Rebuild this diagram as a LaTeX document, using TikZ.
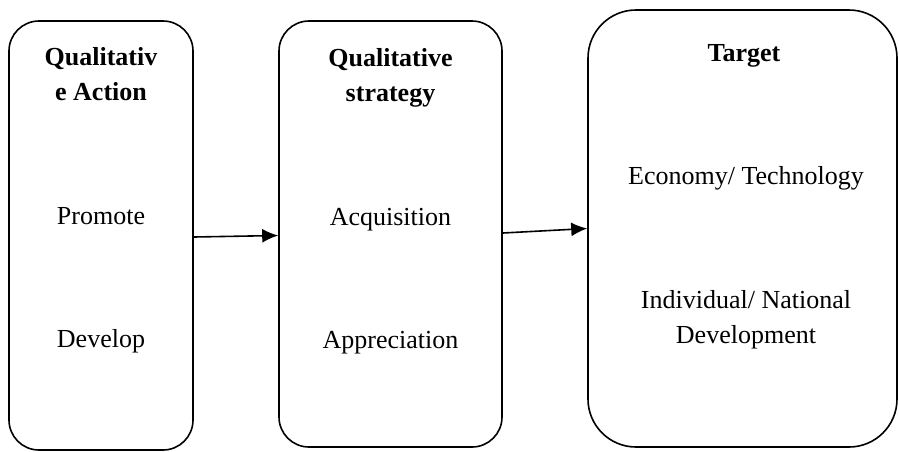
\documentclass[tikz,border=0pt]{standalone}
\usepackage{fontspec}
\setmainfont{Liberation Serif}
\usepackage{tikz}
\usetikzlibrary{arrows.meta,shapes}
\tikzstyle{box}=[draw,line width=1.6pt,rounded corners=30pt,inner sep=0pt]
\tikzstyle{big box}=[draw,line width=1.6pt,rounded corners=48pt,inner sep=0pt]
\tikzstyle{label}=[anchor=base,inner sep=0pt,align=center,font=\fontsize{26}{35}\selectfont]
\tikzstyle{head}=[anchor=base,inner sep=0pt,align=center,font=\fontsize{26}{35}\selectfont\bfseries]
\tikzstyle{edge} = [draw,line width=1.6pt,-{Latex[length=16pt,width=14pt]}]

\begin{document}
\begin{tikzpicture}[x=1pt,y=-1pt]
        \useasboundingbox (0,0) rectangle (899,451);
        %\tikzset{edge/.style = {->,>=latex'}}
        \node[box,minimum width=184pt,minimum height=429pt] (act) at (101,235.5) {};
        \node[box,minimum width=223pt,minimum height=426pt] (strat) at (390.5,234) {};
        \node[big box,minimum width=309pt,minimum height=437pt] (tgt) at (742.5,228.5) {};
        \node[head] (acth) at (101,100.5) {Qualitativ\\e Action};
        \node[label] (prom) at (101,224) {Promote};
        \node[label] (dev) at (101,347) {Develop};
        \node[head] (strath) at (390.5,101.5) {Qualitative\\strategy};
        \node[label] (acq) at (390.5,225.5) {Acquisition};
        \node[label] (appr) at (390.5,348) {Appreciation};
        \node[head] (tgth) at (744,61) {Target};
        \node[label] (econ) at (746,184) {Economy/ Technology};
        \node[label] (indiv) at (746,343) {Individual/ National\\Development};
        \draw[edge] ([yshift=-1.5pt]act.east) to ([yshift=-1.5pt]strat.west);
        \draw[edge] ([yshift=1pt]strat.east) to (tgt.west);
      \end{tikzpicture}
\end{document}
